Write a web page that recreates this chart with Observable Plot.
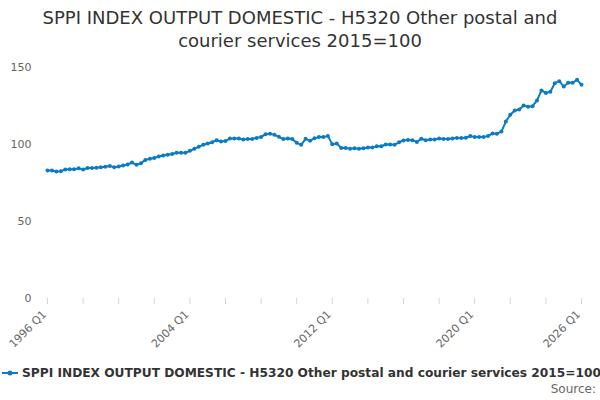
<!DOCTYPE html>
<html>
<head>
<meta charset="utf-8">
<script src="https://cdn.jsdelivr.net/npm/d3@7"></script>
<script src="https://cdn.jsdelivr.net/npm/@observablehq/plot@0.6"></script>
<style>
  body { margin: 0; width: 600px; height: 400px; position: relative; font-family: "DejaVu Sans", sans-serif; background: #fff; overflow: hidden; }
  #title { position: absolute; top: 6px; left: 0; width: 600px; text-align: center; font-size: 18px; line-height: 23px; color: #333; }
  #chart { position: absolute; top: 55px; left: 0; }
  #legend { position: absolute; top: 365px; left: 0; width: 610px; height: 16px; display: flex; align-items: center; font-size: 12.2px; font-weight: bold; color: #333; white-space: nowrap; }
  #legend svg { flex: 0 0 auto; }
  #legend span { flex: 0 0 auto; }
  #source { position: absolute; top: 382px; right: 4px; font-size: 12px; color: #666; }
</style>
</head>
<body>
<div id="title">SPPI INDEX OUTPUT DOMESTIC - H5320 Other postal and<br>courier services 2015=100</div>
<div id="chart"></div>
<div id="legend"><svg width="20" height="12" style="margin-left:1px;margin-right:1px"><line x1="1" y1="6" x2="17" y2="6" stroke="#0a7bc4" stroke-width="2"/><circle cx="9" cy="6" r="2.5" fill="#0a7bc4"/></svg><span>SPPI INDEX OUTPUT DOMESTIC - H5320 Other postal and courier services 2015=100</span></div>
<div id="source">Source:</div>
<script>
const seriesName = "SPPI INDEX OUTPUT DOMESTIC - H5320 Other postal and courier services 2015=100";
const startYear = 1996;
const values = [
  83.1, 83.1, 82.5, 82.7, 83.8, 84.0, 84.0, 84.5, 83.8, 84.7,
  84.7, 84.9, 85.3, 85.6, 86.0, 85.3, 85.7, 86.3, 87.0, 88.3,
  86.8, 87.9, 90.0, 90.7, 91.3, 92.2, 92.9, 93.3, 93.8, 94.6,
  94.6, 94.6, 95.9, 97.2, 98.6, 99.8, 100.6, 101.5, 102.8, 102.0,
  102.2, 103.9, 103.9, 103.9, 103.2, 103.6, 103.6, 104.3, 104.8, 106.7,
  106.9, 106.3, 105.0, 103.5, 103.9, 103.6, 101.1, 99.8, 103.7, 102.4,
  104.1, 104.8, 104.8, 105.6, 100.1, 100.6, 97.8, 97.8, 97.2, 97.6,
  97.2, 97.6, 98.0, 98.0, 98.9, 98.9, 100.0, 100.0, 99.8, 101.5,
  102.6, 103.0, 102.8, 101.7, 103.7, 102.8, 103.2, 103.2, 103.9, 103.6,
  103.6, 103.9, 104.3, 104.3, 104.4, 105.5, 104.8, 104.8, 104.8, 105.6,
  107.1, 107.0, 108.4, 114.9, 119.3, 122.1, 122.7, 125.3, 124.5, 124.9,
  128.6, 135.1, 133.5, 134.2, 139.8, 141.1, 137.7, 140.1, 140.1, 142.0,
  138.8
];
const quarters = values.map((_, i) => `${startYear + Math.floor(i / 4)} Q${(i % 4) + 1}`);
const tickQuarters = quarters.filter((_, i) => i % 8 === 0);
const labelQuarters = ["1996 Q1", "2004 Q1", "2012 Q1", "2020 Q1", "2026 Q1"];
const yTicks = [0, 50, 100, 150];

const data = quarters.map((q, i) => ({quarter: q, value: values[i]}));
const color = "#0a7bc4";

const chart = Plot.plot({
  width: 600,
  height: 305,
  marginTop: 12,
  marginBottom: 62,
  marginLeft: 47,
  marginRight: 19,
  style: {fontFamily: "DejaVu Sans, sans-serif", fontSize: "11px", color: "#666", background: "#fff"},
  x: {type: "point", domain: quarters, padding: 0},
  y: {domain: [0, 150]},
  marks: [
    Plot.gridY(yTicks, {stroke: "#e6e6e6", strokeOpacity: 1, x1: 46, x2: 583}),
    Plot.axisY(yTicks, {tickSize: 0, tickPadding: 16, label: null, fill: "#666", fontSize: 11}),
    Plot.ruleY([0], {stroke: "#ccd6eb", x1: 46, x2: 583}),
    Plot.axisX(tickQuarters, {tickSize: 6, stroke: "#ccd6eb", strokeOpacity: 1, tickFormat: () => "", label: null}),
    Plot.axisX(labelQuarters, {tickSize: 0, tickPadding: 14, tickRotate: -45, dx: -3, fill: "#666", fontSize: 11, label: null}),
    Plot.line(data, {x: "quarter", y: "value", stroke: color, strokeWidth: 2}),
    Plot.dot(data, {x: "quarter", y: "value", r: 2, fill: color, stroke: "none"})
  ]
});
document.getElementById("chart").appendChild(chart);
</script>
</body>
</html>
